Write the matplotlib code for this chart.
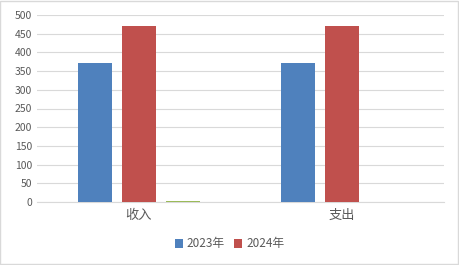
import matplotlib
matplotlib.use('Agg')
import matplotlib.pyplot as plt
import numpy as np

plt.rcParams['font.family'] = ['Noto Sans CJK SC', 'DejaVu Sans']

categories = ['收入', '支出']
series_names = ['2023年', '2024年']
values_2023 = [372, 372]
values_2024 = [471, 471]
values_other = [2, 0]  # third series, not in legend
colors = ['#4f81bd', '#c0504d', '#9bbb59']

fig = plt.figure(figsize=(4.59, 2.65), dpi=100)
ax = fig.add_axes([37 / 459, 1 - 202 / 265, 407 / 459, 187 / 265])

x = np.arange(len(categories))
w = 0.167
step = 0.216
ax.bar(x - step, values_2023, w, color=colors[0], label=series_names[0])
ax.bar(x, values_2024, w, color=colors[1], label=series_names[1])
ax.bar(x + step, values_other, w, color=colors[2])

ax.set_xlim(-0.5, 1.5)
ax.set_ylim(0, 500)
ax.set_yticks(range(0, 501, 50))
ax.set_xticks(x)
ax.set_xticklabels(categories)
ax.tick_params(length=0, labelsize=7.5, colors='#595959')
ax.tick_params(axis='x', pad=5, labelsize=9.5)
ax.grid(axis='y', color='#d9d9d9', linewidth=0.8)
ax.set_axisbelow(True)
for s in ['top', 'right', 'left']:
    ax.spines[s].set_visible(False)
ax.spines['bottom'].set_color('#d9d9d9')
ax.spines['bottom'].set_zorder(0.5)

fig.legend(loc='center', bbox_to_anchor=(0.5, 1 - 244 / 265), ncol=2, frameon=False,
           fontsize=8.5, handlelength=0.7, handleheight=0.7, handletextpad=0.3,
           columnspacing=0.8, labelcolor='#595959')

fig.patches.append(plt.Rectangle((0.001, 0.002), 0.997, 0.995, transform=fig.transFigure,
                                 fill=False, edgecolor='#d9d9d9', linewidth=1))

fig.savefig('out.png', dpi=100)
